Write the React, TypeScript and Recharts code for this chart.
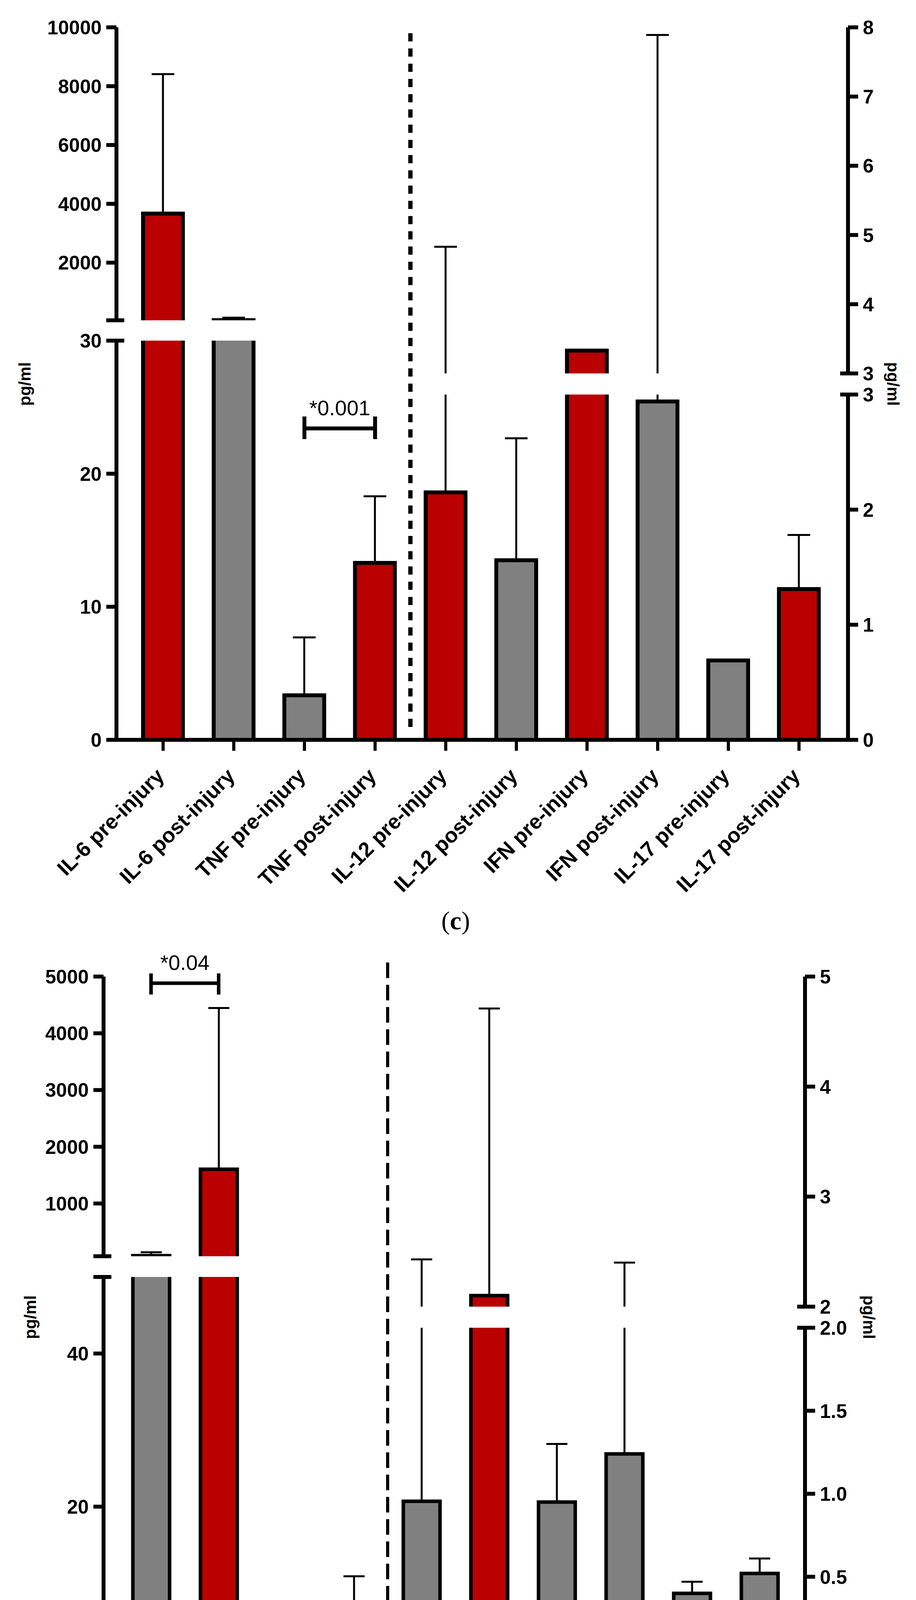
import React from "react";
import { BarChart, Bar, XAxis, YAxis, ErrorBar, ReferenceLine } from "recharts";

const W = 2344;
const H = 4765;
const RED = "#BA0000";
const GRAY = "#808080";
const FONT = "'Liberation Sans', Arial, sans-serif";

const categories = [
  "IL-6 pre-injury",
  "IL-6 post-injury",
  "TNF pre-injury",
  "TNF post-injury",
  "IL-12 pre-injury",
  "IL-12 post-injury",
  "IFN pre-injury",
  "IFN post-injury",
  "IL-17 pre-injury",
  "IL-17 post-injury",
];
// which y axis each cytokine is read against
const sides = ["L", "L", "L", "L", "R", "R", "R", "R", "R", "R"];

// panel (c)
const cMeans = [3670, 45, 3.35, 13.3, 2.15, 1.56, 3.33, 2.94, 0.69, 1.31];
const cErrTops = [8410, 130, 7.7, 18.3, 4.83, 2.62, null, 7.89, null, 1.78];
const cColors = [RED, GRAY, GRAY, RED, RED, GRAY, RED, GRAY, GRAY, RED];

// panel (d)
const dMeans = [80, 1603, 3.6, 5.5, 0.955, 2.1, 0.95, 1.24, 0.4, 0.52];
const dErrTops = [140, 4446, 6.4, 10.9, 2.43, 4.71, 1.3, 2.4, 0.47, 0.61];
const dColors = [GRAY, RED, GRAY, RED, GRAY, RED, GRAY, GRAY, GRAY, GRAY];

// tick values per axis segment
const cLeftUpperTicks = [40, 2000, 4000, 6000, 8000, 10000];
const cLeftLowerTicks = [0, 10, 20, 30];
const cRightUpperTicks = [3, 4, 5, 6, 7, 8];
const cRightLowerTicks = [0, 1, 2, 3];
const dLeftUpperTicks = [70, 1000, 2000, 3000, 4000, 5000];
const dLeftLowerTicks = [0, 20, 40, 50];
const dRightUpperTicks = [2, 3, 4, 5];
const dRightLowerTicks = [0, 0.5, 1, 1.5, 2];

function buildRows(means: number[], errTops: (number | null)[], colors: string[]) {
  return categories.map((name, i) => {
    const e = errTops[i];
    const err = e == null ? null : [0, e - means[i]];
    const left = sides[i] === "L";
    return {
      name,
      color: colors[i],
      L: left ? means[i] : null,
      R: left ? null : means[i],
      LErr: left ? err : null,
      RErr: left ? null : err,
    };
  });
}

const TICK = 26;
const TICK_MARGIN = 12;
const AXW = 220;

const panelC = {
  rows: buildRows(cMeans, cErrTops, cColors),
  left: 298,
  right: 2170,
  pad: { left: 29, right: 35 },
  barSize: 102,
  barStroke: 10,
  capHalf: 29,
  segments: [
    { side: "L", domain: [40, 10000], top: 70, bottom: 820, ticks: cLeftUpperTicks, caps: [40], hide: [40] },
    { side: "L", domain: [0, 30], top: 872, bottom: 1894, ticks: cLeftLowerTicks, caps: [30], hide: [], xAxis: true, bracket: true },
    { side: "R", domain: [3, 8], top: 70, bottom: 956, ticks: cRightUpperTicks, caps: [3], hide: [] },
    { side: "R", domain: [0, 3], top: 1010, bottom: 1894, ticks: cRightLowerTicks, caps: [3], hide: [] },
  ],
  dash: { top: 84, bottom: 1861, width: 11, pattern: "21 18" },
  bracket: { from: categories[2], to: categories[3], y: 23.4, y0: 22.6, y1: 24.3, text: "*0.001", width: 10 },
  caption: "c",
  captionY: 2356,
  unitY: 983,
  unitLeftX: 63,
  unitRightX: 2285,
};

const panelD = {
  rows: buildRows(dMeans, dErrTops, dColors),
  left: 265,
  right: 2060,
  pad: { left: 35, right: 30 },
  barSize: 94,
  barStroke: 9,
  capHalf: 27,
  segments: [
    { side: "L", domain: [70, 5000], top: 2500, bottom: 3216, ticks: dLeftUpperTicks, caps: [70], hide: [70], bracket: true },
    { side: "L", domain: [0, 50], top: 3269, bottom: 4249, ticks: dLeftLowerTicks, caps: [50], hide: [50], xAxis: true },
    { side: "R", domain: [2, 5], top: 2500, bottom: 3345, ticks: dRightUpperTicks, caps: [2], hide: [] },
    { side: "R", domain: [0, 2], top: 3399, bottom: 4249, ticks: dRightLowerTicks, caps: [2], hide: [], fixed: 1 },
  ],
  dash: { top: 2456, bottom: 4214, width: 8, pattern: "40 17" },
  bracket: { from: categories[0], to: categories[1], y: 4883, y0: 4683, y1: 5055, text: "*0.04", width: 9 },
  caption: "d",
  captionY: 4698,
  unitY: 3372,
  unitLeftX: 77,
  unitRightX: 2223,
};

// bar outline without the bottom edge, so bars cut at an axis break stay open
function OpenBar(props: any) {
  const { x, y, width, height, payload, dataKey, sw, min } = props;
  if (payload == null || width == null || height == null) return null;
  const v = payload[dataKey];
  if (v == null || v <= min) return null;
  const top = Math.min(y, y + height);
  const bottom = Math.max(y, y + height);
  return (
    <g>
      <rect x={x} y={top} width={width} height={bottom - top} fill={payload.color} />
      <path
        d={`M${x},${bottom}V${top}H${x + width}V${bottom}`}
        fill="none"
        stroke="#000"
        strokeWidth={sw}
      />
    </g>
  );
}

function YTick(props: any) {
  const { x, y, payload, seg } = props;
  const isLeft = seg.side === "L";
  const dir = isLeft ? -1 : 1;
  const axisX = x - dir * (TICK + TICK_MARGIN);
  const v = payload.value;
  const isCap = seg.caps.includes(v);
  const label = seg.hide.includes(v) ? "" : seg.fixed ? Number(v).toFixed(seg.fixed) : String(v);
  return (
    <g>
      {isCap && <line x1={axisX} x2={axisX - dir * 20} y1={y} y2={y} stroke="#000" strokeWidth={10} />}
      {label && (
        <text
          x={x}
          y={y}
          dy={18}
          textAnchor={isLeft ? "end" : "start"}
          fontFamily={FONT}
          fontWeight="bold"
          fontSize={50}
          fill="#000"
        >
          {label}
        </text>
      )}
    </g>
  );
}

function XTick(props: any) {
  const { x, y, payload } = props;
  return (
    <g transform={`translate(${x + 6},${y + 64})`}>
      <text
        transform="rotate(-45)"
        textAnchor="end"
        fontFamily={FONT}
        fontWeight="bold"
        fontSize={54}
        fill="#000"
      >
        {payload.value}
      </text>
    </g>
  );
}

function BarLayer({ panel, seg }: any) {
  const h = seg.bottom - seg.top;
  const min = seg.domain[0];
  // whisker only where it reaches into this segment
  const errKey = (r: any) => {
    const e = r[seg.side + "Err"];
    const v = r[seg.side];
    if (!e || v == null) return null;
    return v + e[1] > min ? e : null;
  };
  return (
    <div style={{ position: "absolute", left: 0, top: seg.top, width: W, height: h, overflow: "hidden" }}>
      <BarChart
        width={W}
        height={h}
        data={panel.rows}
        margin={{ top: 0, bottom: 0, left: panel.left, right: W - panel.right }}
        barSize={panel.barSize}
      >
        <XAxis dataKey="name" hide padding={panel.pad} />
        <YAxis hide type="number" domain={seg.domain} allowDataOverflow />
        <Bar
          dataKey={seg.side}
          isAnimationActive={false}
          shape={(p: any) => <OpenBar {...p} dataKey={seg.side} sw={panel.barStroke} min={min} />}
        >
          <ErrorBar dataKey={errKey} width={panel.capHalf} strokeWidth={5} stroke="#000" direction="y" />
        </Bar>
      </BarChart>
    </div>
  );
}

function AxisLayer({ panel, seg }: any) {
  const padTop = 140;
  const xH = seg.xAxis ? 420 : 0;
  const padBottom = seg.xAxis ? 0 : 60;
  const h = seg.bottom - seg.top + padTop + padBottom + xH;
  const isLeft = seg.side === "L";
  const margin = {
    top: padTop,
    bottom: padBottom,
    left: isLeft ? panel.left - AXW : panel.left,
    right: isLeft ? W - panel.right : W - panel.right - AXW,
  };
  const b = panel.bracket;
  const lineStyle = { stroke: "#000", strokeWidth: b.width, ifOverflow: "visible" as const };
  return (
    <div style={{ position: "absolute", left: 0, top: seg.top - padTop }}>
      <BarChart width={W} height={h} data={panel.rows} margin={margin}>
        <XAxis
          dataKey="name"
          hide={!seg.xAxis}
          height={xH || 30}
          padding={panel.pad}
          interval={0}
          tick={<XTick />}
          tickSize={28}
          tickMargin={4}
          axisLine={{ stroke: "#000", strokeWidth: 10 }}
          tickLine={{ stroke: "#000", strokeWidth: 8 }}
        />
        <YAxis
          orientation={isLeft ? "left" : "right"}
          width={AXW}
          type="number"
          domain={seg.domain}
          ticks={seg.ticks}
          allowDataOverflow
          interval={0}
          tickSize={TICK}
          tickMargin={TICK_MARGIN}
          axisLine={{ stroke: "#000", strokeWidth: 10 }}
          tickLine={{ stroke: "#000", strokeWidth: 10 }}
          tick={(p: any) => <YTick {...p} seg={seg} />}
        />
        <Bar dataKey={seg.side} fill="none" isAnimationActive={false} />
        {seg.bracket && (
          <ReferenceLine
            segment={[{ x: b.from, y: b.y }, { x: b.to, y: b.y }]}
            {...lineStyle}
            label={{ value: b.text, position: "top", offset: 34, fontSize: 54, fill: "#000", fontFamily: FONT }}
          />
        )}
        {seg.bracket && (
          <ReferenceLine segment={[{ x: b.from, y: b.y0 }, { x: b.from, y: b.y1 }]} {...lineStyle} />
        )}
        {seg.bracket && (
          <ReferenceLine segment={[{ x: b.to, y: b.y0 }, { x: b.to, y: b.y1 }]} {...lineStyle} />
        )}
      </BarChart>
    </div>
  );
}

function DashLayer({ panel }: any) {
  const d = panel.dash;
  return (
    <div style={{ position: "absolute", left: 0, top: d.top }}>
      <BarChart
        width={W}
        height={d.bottom - d.top}
        data={panel.rows}
        margin={{ top: 0, bottom: 0, left: panel.left, right: W - panel.right }}
      >
        <XAxis dataKey="name" hide padding={panel.pad} />
        <YAxis hide />
        <Bar dataKey="L" fill="none" isAnimationActive={false} />
        <ReferenceLine
          x={categories[4]}
          position="start"
          stroke="#000"
          strokeWidth={d.width}
          strokeDasharray={d.pattern}
          ifOverflow="visible"
        />
      </BarChart>
    </div>
  );
}

function Panel({ panel }: any) {
  return (
    <>
      {panel.segments.map((seg: any, i: number) => (
        <BarLayer key={"b" + i} panel={panel} seg={seg} />
      ))}
      <DashLayer panel={panel} />
      {panel.segments.map((seg: any, i: number) => (
        <AxisLayer key={"a" + i} panel={panel} seg={seg} />
      ))}
    </>
  );
}

function Texts() {
  const unit = (x: number, y: number, angle: number) => (
    <text
      x={x}
      y={y}
      transform={`rotate(${angle},${x},${y})`}
      textAnchor="middle"
      dominantBaseline="central"
      fontFamily={FONT}
      fontWeight="bold"
      fontSize={42}
      fill="#000"
    >
      pg/ml
    </text>
  );
  const caption = (p: any) => (
    <text
      x={1166}
      y={p.captionY}
      textAnchor="middle"
      dominantBaseline="central"
      fontFamily="'Liberation Serif', 'DejaVu Serif', serif"
      fontSize={66}
      fill="#000"
    >
      (<tspan fontWeight="bold">{p.caption}</tspan>)
    </text>
  );
  return (
    <svg
      width={W}
      height={H}
      style={{ position: "absolute", left: 0, top: 0, pointerEvents: "none" }}
    >
      {[panelC, panelD].map((p) => (
        <g key={p.caption}>
          {unit(p.unitLeftX, p.unitY, -90)}
          {unit(p.unitRightX, p.unitY, 90)}
          {caption(p)}
        </g>
      ))}
    </svg>
  );
}

export default function App() {
  return (
    <div style={{ position: "relative", width: W, height: H, background: "#fff", overflow: "hidden" }}>
      <style>{"body{margin:0}"}</style>
      <Panel panel={panelC} />
      <Panel panel={panelD} />
      <Texts />
    </div>
  );
}
